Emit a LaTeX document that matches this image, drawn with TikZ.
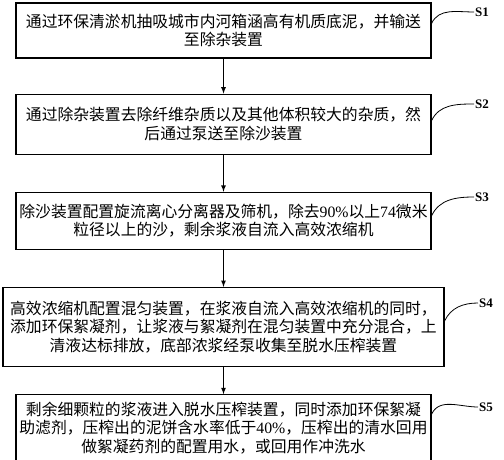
\documentclass[tikz,border=0pt]{standalone}
\usepackage{fontspec}
\setmainfont{Noto Sans CJK SC}
\newfontfamily\latinfont{Liberation Serif}
\usetikzlibrary{arrows, positioning}

\begin{document}
\begin{tikzpicture}[x=1pt, y=1pt, node distance=37pt,
		stepbox/.style={draw, line width=1.2pt, minimum width=415pt, align=center, inner sep=0pt,
			font=\fontsize{15.8}{18.5}\selectfont},
		tag/.style={anchor=west, inner sep=1pt, font=\latinfont\bfseries\fontsize{13}{13}\selectfont}]
		\useasboundingbox (0,0) rectangle (504,-460);
		\node[stepbox, minimum height=55pt] (s1) at (223.5,-30.5) {通过环保清淤机抽吸城市内河箱涵高有机质底泥，并输送\\至除杂装置};
		\node[stepbox, minimum height=60pt, below=35pt of s1] (s2) {通过除杂装置去除纤维杂质以及其他体积较大的杂质，然\\后通过泵送至除沙装置};
		\node[stepbox, minimum height=57pt, below=of s2] (s3) {除沙装置配置旋流离心分离器及筛机，除去{\latinfont 90\%}以上{\latinfont 74}微米\\粒径以上的沙，剩余浆液自流入高效浓缩机};
		\node[stepbox, minimum height=79pt, minimum width=441pt, below=of s3] (s4) {高效浓缩机配置混匀装置，在浆液自流入高效浓缩机的同时，\\添加环保絮凝剂，让浆液与絮凝剂在混匀装置中充分混合，上\\清液达标排放，底部浓浆经泵收集至脱水压榨装置};
		\node[stepbox, minimum height=66pt, below=27pt of s4] (s5) {剩余细颗粒的浆液进入脱水压榨装置，同时添加环保絮凝\\助滤剂，压榨出的泥饼含水率低于{\latinfont 40\%}，压榨出的清水回用\\做絮凝药剂的配置用水，或回用作冲洗水};
		% step tags
		\node[tag] (t1) at (474,-12) {S1};
		\node[tag] (t2) at (474,-104) {S2};
		\node[tag] (t3) at (474,-197) {S3};
		\node[tag] (t4) at (478,-303) {S4};
		\node[tag] (t5) at (478,-407) {S5};
		\foreach \from/\to in {s1/s2,s2/s3,s3/s4,s4/s5}
			\draw[->, >=latex, line width=1.2pt] (\from) -- (\to);
		\foreach \n/\d in {1/21,2/27,3/24,4/34,5/20}
			\draw[line width=0.8pt] ([yshift=-\d pt]s\n.north east) to[out=65, in=180] (t\n.west);
	\end{tikzpicture}
\end{document}
